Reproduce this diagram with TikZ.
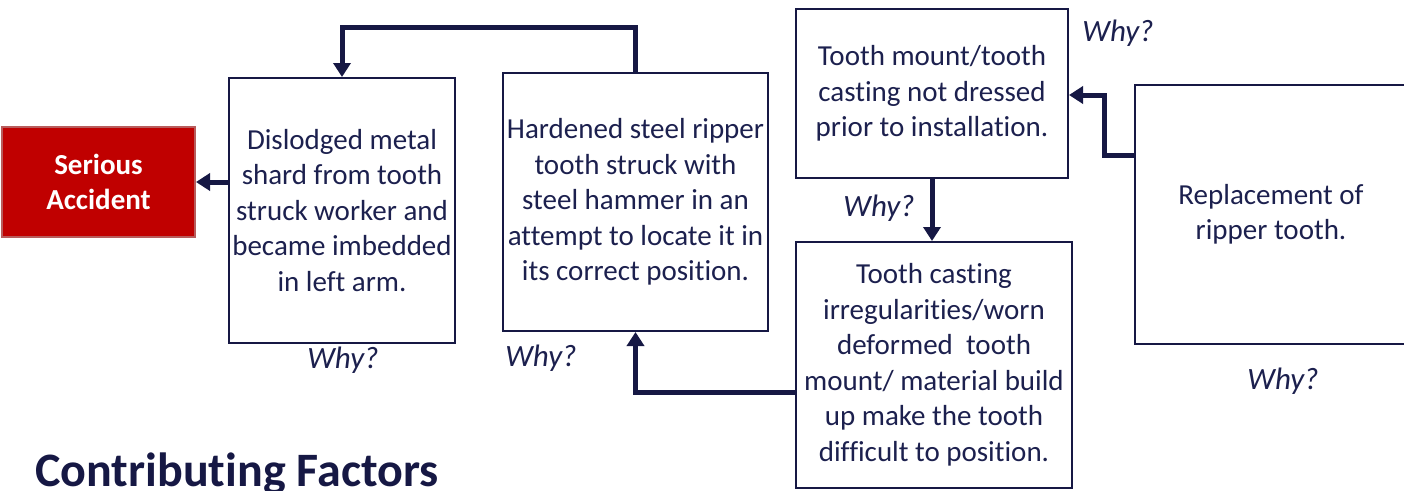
\documentclass[tikz,border=0pt]{standalone}
\usepackage{fontspec}
\setmainfont{Carlito}[RawFeature={-liga;-clig;-calt;-dlig}]
\usetikzlibrary{arrows.meta}
\definecolor{navy}{RGB}{22,24,68}
\definecolor{txt}{RGB}{28,32,78}
\definecolor{sared}{RGB}{192,0,0}
\definecolor{saborder}{RGB}{184,92,92}
\tikzset{
  box/.style={draw=navy, line width=2pt, inner sep=0pt, align=center, text=txt,
    font=\fontsize{29}{35.5}\selectfont},
  arr/.style={draw=navy, line width=5pt,
    -{Triangle[length=14pt,width=17pt]}},
  whylbl/.style={text=txt, font=\fontsize{31}{35}\selectfont\itshape, inner sep=0pt}
}
\begin{document}
\begin{tikzpicture}[x=1pt,y=-1pt]
\useasboundingbox (0,0) rectangle (1404,490);
\node[box, fill=sared, draw=saborder, text=white, font=\fontsize{29}{35}\selectfont\bfseries,
  minimum width=193pt, minimum height=110pt] (sa) at (98.5,182) {Serious\\Accident};
\node[box, minimum width=226pt, minimum height=265pt] (b1) at (342,210.5)
  {Dislodged metal\\shard from tooth\\struck worker and\\became imbedded\\in left arm.};
\node[box, minimum width=265pt, minimum height=258pt] (b2) at (635.5,202)
  {Hardened steel ripper\\tooth struck with\\steel hammer in an\\attempt to locate it in\\its correct position.};
\node[box, minimum width=272pt, minimum height=169pt] (b3) at (932,93.5)
  {Tooth mount/tooth\\casting not dressed\\prior to installation.};
\node[box, minimum width=276pt, minimum height=246pt] (b4) at (934,365)
  {Tooth casting\\irregularities/worn\\deformed\ \ tooth\\mount/ material build\\up make the tooth\\difficult to position.};
\node[box, minimum width=272pt, minimum height=259pt] (b5) at (1271,214.5)
  {Replacement of\\ripper tooth.};

\node[whylbl] (w1) at (343,360) {Why?};
\node[whylbl] (w2) at (541,358) {Why?};
\node[whylbl] (w3) at (1118,33) {Why?};
\node[whylbl] (w4) at (879,208) {Why?};
\node[whylbl] (w5) at (1283,381) {Why?};

\node[anchor=base west, inner sep=0pt, text=navy, font=\fontsize{48}{50}\selectfont\bfseries]
  (title) at (35,486) {Contributing Factors};

\coordinate (topy) at (0,27);
\coordinate (b5y) at (0,155);
\coordinate (b3y) at (0,95);
\coordinate (midx) at (1104,0);
\coordinate (b4y) at (0,392);

\draw[arr] (b1.west |- sa.east) -- (sa.east);
\draw[arr] (b2.north) -- (b2.north |- topy) -| (b1.north);
\draw[arr] (b3.south) -- (b3.south |- b4.north);
\draw[arr] (b5.west |- b5y) -- (midx |- b5y) |- (b3.east |- b3y);
\draw[arr] (b4.west |- b4y) -| (b2.south);
\end{tikzpicture}
\end{document}
